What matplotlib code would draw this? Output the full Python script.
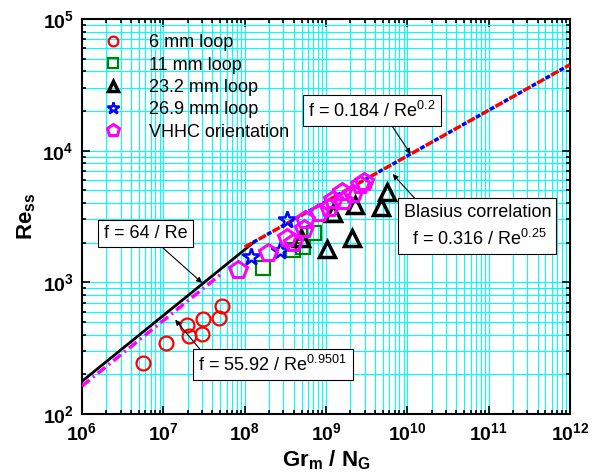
import numpy as np
import matplotlib
matplotlib.use("Agg")
import matplotlib.pyplot as plt
from matplotlib.ticker import LogLocator, FuncFormatter, NullFormatter

plt.rcParams['font.family'] = ['Liberation Sans', 'DejaVu Sans']
plt.rcParams['mathtext.fontset'] = 'custom'
plt.rcParams['mathtext.rm'] = 'Liberation Sans'
plt.rcParams['mathtext.it'] = 'Liberation Sans:italic'
plt.rcParams['mathtext.bf'] = 'Liberation Sans:bold'

# experimental data (Gr_m/N_G, Re_ss)
loop6_x = [5.6e6, 1.08e7, 1.97e7, 2.05e7, 3.1e7, 2.99e7, 4.9e7, 5.2e7]
loop6_y = [245, 348, 471, 391, 524, 405, 536, 661]
loop11_x = [1.69e8, 3.96e8, 5.26e8, 7.18e8]
loop11_y = [1277, 1758, 1845, 2355]
loop23_x = [1.03e9, 2.09e9, 4.74e9, 5.62e9, 2.28e9, 1.22e9, 4.93e8]
loop23_y = [1790, 2170, 3730, 4850, 3860, 3360, 2170]
loop27_x = [3.29e8, 1.21e8, 2.72e8]
loop27_y = [2970, 1550, 1742]
vhhc_x = [8.17e7, 1.95e8, 3.29e8, 3.96e8, 5.44e8, 5.52e8, 8.2e8, 1.09e9,
          1.22e9, 1.6e9, 1.56e9, 2.15e9, 2.62e9, 2.93e9]
vhhc_y = [1250, 1667, 2158, 2000, 2540, 2970, 3360, 3660,
          4220, 4140, 4890, 4680, 5530, 5820]

# correlation lines (end points)
lam_x = [1e6, 1.34e8]
lam_y = [177, 2050]
fit_x = [1e6, 5e7]
fit_y = [163, 1140]
turb_x = [1.0e8, 1e12]
turb_y = [1850, 45000]

fig = plt.figure(figsize=(5.92, 4.76), dpi=100)
ax = fig.add_axes([0.1385, 0.1303, 0.8243, 0.8298])

ax.set_xscale('log')
ax.set_yscale('log')
ax.set_xlim(1e6, 1e12)
ax.set_ylim(1e2, 1e5)

ax.grid(True, which='both', color='#00ffff', lw=0.8)
ax.set_axisbelow(True)

ax.plot(lam_x, lam_y, color='k', lw=2, zorder=3)
ax.plot(fit_x, fit_y, color='#ff00ff', lw=2.5, dashes=(2.8, 1.2, 0.6, 1.2), zorder=3)
# Blasius (blue) and f = 0.184/Re^0.2 (red) nearly coincide
ax.plot(turb_x, turb_y, color='blue', lw=2.5, ls=(1.8, (1.4, 3.2)), zorder=3)
ax.plot(turb_x, turb_y, color='red', lw=2.5, ls=(0, (2.4, 2.2)), zorder=3)

ax.plot(loop6_x, loop6_y, 'o', ms=10, mfc='none', mec='red', mew=1.6,
        label='6 mm loop', zorder=4)
ax.plot(loop11_x, loop11_y, 's', ms=10, mfc='none', mec='green', mew=1.6,
        label='11 mm loop', zorder=4)
ax.plot(loop23_x, loop23_y, '^', ms=11, mfc='none', mec='k', mew=2.5,
        label='23.2 mm loop', zorder=4)
ax.plot(loop27_x, loop27_y, '*', ms=13, mfc='none', mec='blue', mew=1.8,
        label='26.9 mm loop', zorder=4)
ax.plot(vhhc_x, vhhc_y, 'p', ms=13, mfc='none', mec='#ff00ff', mew=2.2,
        label='VHHC orientation', zorder=5)

leg = ax.legend(loc='upper left', bbox_to_anchor=(0.03, 0.98), frameon=False,
                fontsize=13, markerscale=0.7, handlelength=1.0,
                handletextpad=1.5, labelspacing=0.3, borderaxespad=0)

box = dict(boxstyle='square,pad=0.3', fc='white', ec='k', lw=0.8)
arr = dict(arrowstyle='-|>', color='k', lw=0.8, mutation_scale=8,
           shrinkA=0, shrinkB=0)

ax.annotate('f = 64 / Re', xy=(3e7, 990), xytext=(0.13, 0.457),
            textcoords='axes fraction', ha='center', va='center', fontsize=13,
            bbox=box, arrowprops=dict(arr, relpos=(0.63, 0)), zorder=6)
ax.annotate('f = 55.92 / Re$^{0.9501}$', xy=(1.4e7, 520), xytext=(0.391, 0.125),
            textcoords='axes fraction', ha='center', va='center', fontsize=13,
            bbox=box, arrowprops=dict(arr, relpos=(0.04, 1)), zorder=6)
ax.annotate('f = 0.184 / Re$^{0.2}$', xy=(1.1e10, 9420), xytext=(0.594, 0.768),
            textcoords='axes fraction', ha='center', va='center', fontsize=13,
            bbox=box, arrowprops=dict(arr, relpos=(0.63, 0)), zorder=6)
ax.annotate('Blasius correlation\n f = 0.316 / Re$^{0.25}$', xy=(6.6e9, 6640),
            xytext=(0.81, 0.475), textcoords='axes fraction', ha='center',
            va='center', fontsize=13, multialignment='center', linespacing=1.5,
            bbox=box, arrowprops=dict(arr, relpos=(0.11, 1)), zorder=6)

ax.xaxis.set_major_locator(LogLocator(base=10, numticks=20))
ax.xaxis.set_minor_locator(LogLocator(base=10, subs=np.arange(2, 10), numticks=20))
ax.yaxis.set_major_locator(LogLocator(base=10, numticks=20))
ax.yaxis.set_minor_locator(LogLocator(base=10, subs=np.arange(2, 10), numticks=20))
fmt = FuncFormatter(lambda v, p: r'$\mathbf{10^{%d}}$' % round(np.log10(v)))
ax.xaxis.set_major_formatter(fmt)
ax.yaxis.set_major_formatter(fmt)
ax.xaxis.set_minor_formatter(NullFormatter())
ax.yaxis.set_minor_formatter(NullFormatter())

ax.tick_params(which='both', direction='in', top=True, right=True,
               labelsize=14, width=1.2)
ax.tick_params(which='major', length=6, pad=6)
ax.tick_params(which='minor', length=3)
for s in ax.spines.values():
    s.set_linewidth(1.5)

ax.set_xlabel(r'Gr$_{\mathbf{m}}$ / N$_{\mathbf{G}}$', fontsize=16,
              fontweight='bold', labelpad=3)
ax.set_ylabel(r'Re$_{\mathbf{ss}}$', fontsize=16, fontweight='bold', labelpad=3)

fig.savefig('out.png', dpi=100)
